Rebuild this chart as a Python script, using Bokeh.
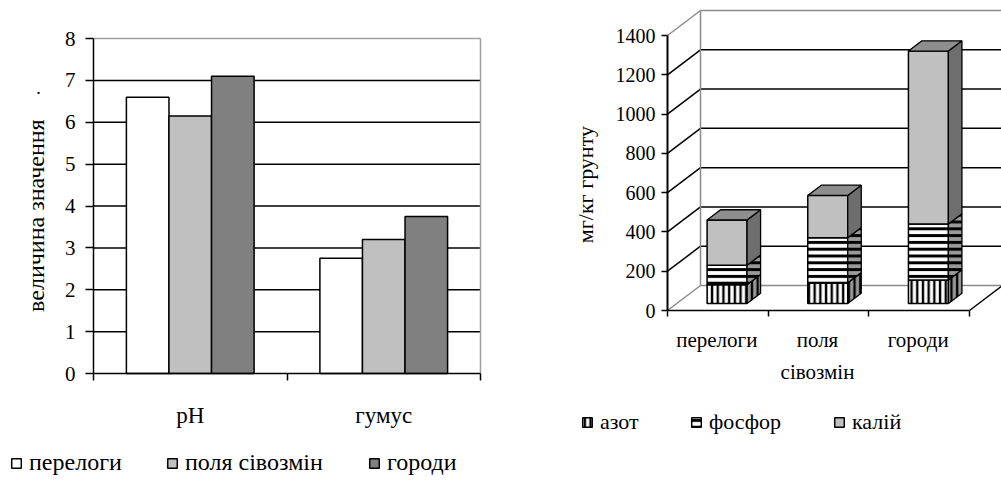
from math import pi

from bokeh.core.properties import value
from bokeh.embed import file_html
from bokeh.layouts import row
from bokeh.models import (ColumnDataSource, FixedTicker, Label, Legend,
                          LegendItem, LinearAxis, Range1d)
from bokeh.plotting import figure
from bokeh.resources import INLINE

# ---------------- data ----------------
# left chart: soil acidity and humus
indicators = ["pH", "гумус"]
land_types = ["перелоги", "поля сівозмін", "городи"]
perelogy = [6.6, 2.75]
polia = [6.15, 3.2]
gorody = [7.1, 3.75]
left_ticks = [0, 1, 2, 3, 4, 5, 6, 7, 8]

# right chart: nutrients, mg per kg of soil
nutr_categories = ["перелоги", "поля сівозмін", "городи"]
nutrients = ["азот", "фосфор", "калій"]
azot = [95, 105, 120]
fosfor = [100, 230, 285]
kaliy = [230, 215, 880]
right_ticks = [0, 200, 400, 600, 800, 1000, 1200, 1400]

FONT = "'Liberation Serif', 'Times New Roman', serif"
GRAY = "#8a8a8a"


def set_font(model, attr):
    """Assign the serif family, whichever form the property accepts."""
    try:
        setattr(model, attr, value(FONT))
    except ValueError:
        setattr(model, attr, FONT)


def style_axis(ax, tick_out, label_size, standoff):
    ax.major_tick_out = tick_out
    ax.major_tick_in = 0
    ax.minor_tick_line_color = None
    ax.axis_line_color = "black"
    ax.major_tick_line_color = "black"
    ax.axis_line_width = 1.5
    ax.major_tick_line_width = 1.5
    set_font(ax, "major_label_text_font")
    ax.major_label_text_font_size = label_size
    ax.major_label_text_color = "black"
    ax.major_label_standoff = standoff


def one_item_legend(label, renderer, x, y, size):
    leg = Legend(items=[LegendItem(label=label, renderers=[renderer])],
                 location=(x, y), padding=0, margin=0, label_standoff=7,
                 glyph_width=12, glyph_height=12, label_height=20,
                 border_line_alpha=0, background_fill_alpha=0,
                 label_text_font_size=size,
                 label_text_color="black", label_text_baseline="middle")
    set_font(leg, "label_text_font")
    return leg


def text_label(**kw):
    lab = Label(text_color="black", **kw)
    set_font(lab, "text_font")
    return lab


# ---------------- left: grouped bars ----------------
LX, LY = 193.5, 41.875          # pixels per unit
L_ORIGIN = (93, 373)            # pixel position of (0, 0)
W1, H1 = 560, 480
p1 = figure(width=W1, height=H1,
            x_range=Range1d(-L_ORIGIN[0] / LX, (W1 - L_ORIGIN[0]) / LX),
            y_range=Range1d(-(H1 - L_ORIGIN[1]) / LY, L_ORIGIN[1] / LY),
            x_axis_location=None, y_axis_location=None,
            output_backend="svg", toolbar_location=None,
            min_border=0)
p1.outline_line_color = None
p1.grid.visible = False
p1.background_fill_color = "white"
p1.border_fill_color = "white"

n_ind = len(indicators)
ymax = left_ticks[-1]
# horizontal grid lines and the light plot border
p1.segment(x0=[0] * (len(left_ticks) - 2), x1=[n_ind] * (len(left_ticks) - 2),
           y0=left_ticks[1:-1], y1=left_ticks[1:-1], line_color="black", line_width=1.5)
p1.segment(x0=[0, n_ind], y0=[ymax, 0], x1=[n_ind, n_ind], y1=[ymax, ymax],
           line_color="#a0a0a0", line_width=1.5)

series_left = [perelogy, polia, gorody]
colors_left = ["#ffffff", "#c0c0c0", "#808080"]
bar_w = 0.22
left_renderers = []
for k, (vals, col) in enumerate(zip(series_left, colors_left)):
    src = ColumnDataSource(dict(x=[i + 0.5 + (k - 1) * bar_w for i in range(n_ind)],
                                top=vals))
    r = p1.vbar(x="x", top="top", width=bar_w, bottom=0, source=src,
                fill_color=col, line_color="black", line_width=1.5)
    left_renderers.append(r)

yax = LinearAxis(ticker=FixedTicker(ticks=left_ticks), fixed_location=0,
                 bounds=(0, ymax))
style_axis(yax, 8, "21px", 10)
p1.add_layout(yax, "left")
xax = LinearAxis(ticker=FixedTicker(ticks=list(range(n_ind + 1))), fixed_location=0,
                 bounds=(0, n_ind))
style_axis(xax, 7, "0px", 0)
p1.add_layout(xax, "below")

p1.text(x=[i + 0.5 for i in range(n_ind)], y=[-1.0] * n_ind, text=indicators,
        text_align="center", text_baseline="middle", text_font=value(FONT),
        text_font_size="23px", text_color="black")

p1.add_layout(text_label(x=-58 / LX, y=3.77, text="величина значення",
                         angle=pi / 2, text_align="center", text_baseline="middle",
                         text_font_size="24px"))
p1.add_layout(text_label(x=-55 / LX, y=6.83, text=".",
                         text_align="center", text_baseline="alphabetic",
                         text_font_size="18px"))

for name, r, lx in zip(land_types, left_renderers, [10, 166, 368]):
    p1.add_layout(one_item_legend(name, r, lx, 4, "24px"))

# ---------------- right: stacked pseudo-3D bars ----------------
PX_X = 100.67          # pixels per category
PX_Y = 275 / 1400      # pixels per mg/kg
R_ORIGIN = (107, 310)  # pixel position of (0, 0)
DX = 33 / PX_X         # depth shift of the back wall (x)
DY = 25 / PX_Y         # depth shift of the back wall (y)
D0, D1 = 0.28, 0.69    # front/back of bars as fraction of depth
BW = 0.397             # bar width in category units
W2, H2 = 441, 480

p2 = figure(width=W2, height=H2,
            x_range=Range1d(-R_ORIGIN[0] / PX_X, (W2 - R_ORIGIN[0]) / PX_X),
            y_range=Range1d(-(H2 - R_ORIGIN[1]) / PX_Y, R_ORIGIN[1] / PX_Y),
            x_axis_location=None, y_axis_location=None,
            output_backend="svg", toolbar_location=None, min_border=0)
p2.outline_line_color = None
p2.grid.visible = False
p2.background_fill_color = "white"
p2.border_fill_color = "white"

ncat = len(nutr_categories)
x_far = (W2 - R_ORIGIN[0]) / PX_X + 1
vmax = right_ticks[-1]
edge_col = [GRAY if v in (right_ticks[0], vmax) else "black" for v in right_ticks]
nt = len(right_ticks)
# side wall diagonals
p2.segment(x0=[0] * nt, y0=right_ticks, x1=[DX] * nt, y1=[v + DY for v in right_ticks],
           line_color=edge_col, line_width=1.5)
# back wall grid lines
p2.segment(x0=[DX] * nt, y0=[v + DY for v in right_ticks],
           x1=[x_far] * nt, y1=[v + DY for v in right_ticks],
           line_color=edge_col, line_width=1.5)
# back wall corner and right floor edge
p2.segment(x0=[DX], y0=[DY], x1=[DX], y1=[vmax + DY], line_color=GRAY, line_width=1.5)
p2.segment(x0=[ncat], y0=[0], x1=[ncat + DX], y1=[DY], line_color="black", line_width=1.5)

stack = [(azot, "#ffffff", "#9a9a9a", "vertical_line", 5.7, 2.4),
         (fosfor, "#ffffff", "#9a9a9a", "horizontal_line", 6.8, 3.0),
         (kaliy, "#c0c0c0", "#6e6e6e", None, 1, 1)]
TOP_COL = "#8e8e8e"

ox, oy = D0 * DX, D0 * DY
ddx, ddy = (D1 - D0) * DX, (D1 - D0) * DY
centers = [i + 0.5 for i in range(ncat)]
base = [0.0] * ncat
right_renderers = []
for idx, (vals, front_col, side_col, hatch, hscale, hweight) in enumerate(stack):
    lefts = [c - BW / 2 + ox for c in centers]
    rights = [c + BW / 2 + ox for c in centers]
    bottoms = [b + oy for b in base]
    tops = [b + v + oy for b, v in zip(base, vals)]
    hatch_kw = {}
    if hatch:
        hatch_kw = dict(hatch_pattern=hatch, hatch_color="black",
                        hatch_scale=hscale, hatch_weight=hweight)
    r = p2.quad(left=lefts, right=rights, bottom=bottoms, top=tops,
                fill_color=front_col, line_color="black", line_width=1.5, **hatch_kw)
    right_renderers.append(r)
    side_xs = [[xr, xr + ddx, xr + ddx, xr] for xr in rights]
    side_ys = [[b, b + ddy, t + ddy, t] for b, t in zip(bottoms, tops)]
    p2.patches(xs=side_xs, ys=side_ys, fill_color=side_col, line_color="black",
               line_width=1.3, **hatch_kw)
    if idx == len(stack) - 1:
        top_xs = [[xl, xl + ddx, xr + ddx, xr] for xl, xr in zip(lefts, rights)]
        top_ys = [[t, t + ddy, t + ddy, t] for t in tops]
        p2.patches(xs=top_xs, ys=top_ys, fill_color=TOP_COL, line_color="black",
                   line_width=1.3)
    base = [b + v for b, v in zip(base, vals)]

ya2 = LinearAxis(ticker=FixedTicker(ticks=right_ticks), fixed_location=0, bounds=(0, vmax))
style_axis(ya2, 6, "20px", 6)
ya2.axis_line_width = 2
p2.add_layout(ya2, "left")
xa2 = LinearAxis(ticker=FixedTicker(ticks=list(range(ncat + 1))), fixed_location=0,
                 bounds=(0, ncat))
style_axis(xa2, 6, "0px", 0)
p2.add_layout(xa2, "below")

for i, name in enumerate(nutr_categories):
    p2.add_layout(text_label(x=i + 0.49, y=-17 / PX_Y, text=name.replace(" ", "\n"),
                             text_align="center", text_baseline="top",
                             text_line_height=1.35, text_font_size="21px"))

p2.add_layout(text_label(x=-82 / PX_X, y=641, text="мг/кг грунту",
                         angle=pi / 2, text_align="center", text_baseline="middle",
                         text_font_size="22px"))

for name, r, lx in zip(nutrients, right_renderers, [21, 130, 273]):
    p2.add_layout(one_item_legend(name, r, lx, 45, "22px"))

layout = row(p1, p2)
open("out.html", "w").write(file_html(layout, INLINE))
